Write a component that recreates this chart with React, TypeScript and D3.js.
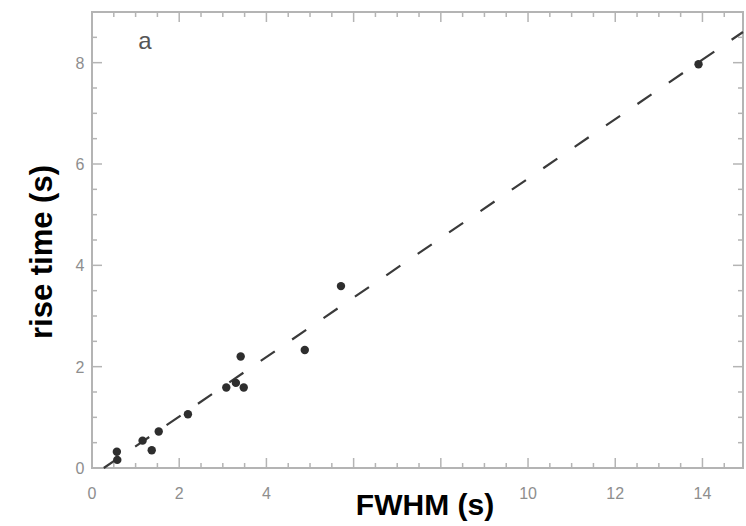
import React from "react";
import * as d3 from "d3";

const fwhm = [0.57, 0.58, 1.16, 1.37, 1.53, 2.2, 3.08, 3.3, 3.48, 3.41, 4.88, 5.71, 13.91];
const riseTime = [0.32, 0.16, 0.54, 0.35, 0.72, 1.06, 1.59, 1.68, 1.59, 2.2, 2.33, 3.59, 7.97];
// labels 6 and 8 are hidden behind the axis title in the reference
const xTickLabels = [0, 2, 4, 10, 12, 14];
const yTicks = [0, 2, 4, 6, 8];
const fitSlope = 0.587;
const fitX0 = 0.27;
const xMax = 14.93;
const yMax = 9;

export default function App() {
  const W = 746, H = 526;
  const left = 92, right = 743, top = 12, bottom = 468;
  const x = d3.scaleLinear().domain([0, xMax]).range([left, right]);
  const y = d3.scaleLinear().domain([0, yMax]).range([bottom, top]);
  const axisColor = "#b4b4b4";
  const labelColor = "#8e8e8e";
  const xMinor = d3.range(0, xMax + 0.001, 0.5);
  const yMinor = d3.range(0, yMax + 0.001, 0.5);
  const isMajor = (v: number) => Math.abs(v / 2 - Math.round(v / 2)) < 1e-6;
  const fitX1 = xMax;
  const line = d3.line<[number, number]>().x(d => x(d[0])).y(d => y(d[1]));
  const fitPts: [number, number][] = [[fitX0, 0], [fitX1, fitSlope * (fitX1 - fitX0)]];
  const pts = fwhm.map((f, i) => [f, riseTime[i]] as [number, number]);
  return (
    <svg width={W} height={H} style={{ position: "absolute", left: 0, top: 0, background: "#fff" }}>
      <rect x={0} y={0} width={W} height={H} fill="#fff" />
      <rect x={left} y={top} width={right - left} height={bottom - top} fill="none" stroke={axisColor} strokeWidth={2} />
      {xMinor.map((v, i) => {
        const len = isMajor(v) ? 10 : 5;
        return (
          <g key={"xt" + i} stroke={axisColor} strokeWidth={1.5}>
            <line x1={x(v)} x2={x(v)} y1={bottom} y2={bottom - len} />
            <line x1={x(v)} x2={x(v)} y1={top} y2={top + len} />
          </g>
        );
      })}
      {yMinor.map((v, i) => {
        const len = isMajor(v) ? 10 : 5;
        return (
          <g key={"yt" + i} stroke={axisColor} strokeWidth={1.5}>
            <line x1={left} x2={left + len} y1={y(v)} y2={y(v)} />
            <line x1={right} x2={right - len} y1={y(v)} y2={y(v)} />
          </g>
        );
      })}
      {xTickLabels.map(v => (
        <text key={"xl" + v} x={x(v)} y={499} textAnchor="middle" fontFamily="Liberation Sans, Arial, sans-serif" fontSize={16} fill={labelColor}>{v}</text>
      ))}
      {yTicks.map(v => (
        <text key={"yl" + v} x={80} y={y(v) + 6} textAnchor="middle" fontFamily="Liberation Sans, Arial, sans-serif" fontSize={16} fill={labelColor}>{v}</text>
      ))}
      <path d={line(fitPts) || ""} fill="none" stroke="#3a3a3a" strokeWidth={2.2} strokeDasharray="17 21" />
      {pts.map((p, i) => (
        <circle key={"p" + i} cx={x(p[0])} cy={y(p[1])} r={4.2} fill="#2e2e2e" />
      ))}
      <text x={145} y={49} textAnchor="middle" fontFamily="Liberation Sans, Arial, sans-serif" fontSize={24} fill="#555">a</text>
      <text x={425} y={515} textAnchor="middle" fontFamily="Liberation Sans, Arial, sans-serif" fontWeight="bold" fontSize={30} fill="#000">FWHM (s)</text>
      <text transform={`translate(52,252) rotate(-90)`} textAnchor="middle" fontFamily="Liberation Sans, Arial, sans-serif" fontWeight="bold" fontSize={31} fill="#000">rise time (s)</text>
    </svg>
  );
}
